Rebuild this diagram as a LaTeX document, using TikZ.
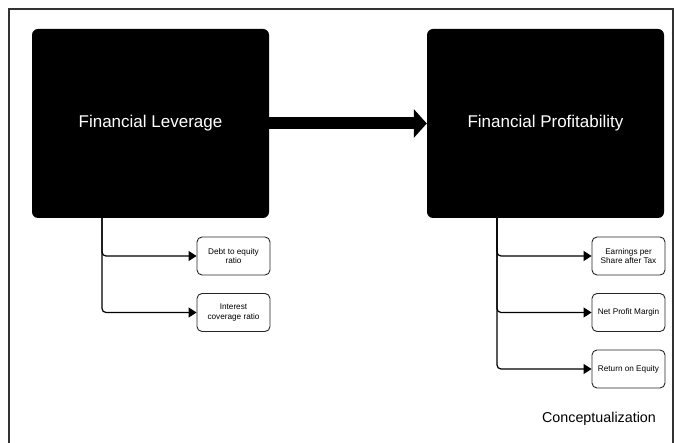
\documentclass[tikz,border=0pt]{standalone}
\usepackage{fontspec}
\setmainfont{Liberation Sans}
\usetikzlibrary{arrows.meta}

\begin{document}
\begin{tikzpicture}[x=1pt, y=-1pt,
    bigbox/.style={rectangle, rounded corners=6pt, fill=black, text=white,
        minimum width=237pt, minimum height=189pt, font=\fontsize{17}{20}\selectfont},
    smallbox/.style={rectangle, rounded corners=5pt, draw=black!85, line width=0.9pt,
        minimum width=73pt, minimum height=38pt, align=center, inner sep=1pt,
        font=\fontsize{8.2}{9.5}\selectfont},
    link/.style={line width=1.2pt, rounded corners=4pt, -{Triangle[length=8pt, width=10pt]}}]
    \useasboundingbox (0,0) rectangle (676,443);
    \draw[black!80, line width=1.4pt] (9,450) -- (9,9) -- (673,9) -- (673,450);

    \node[bigbox] (lev) at (150.5, 123.5) {Financial Leverage};
    \node[bigbox] (prof) at (545.5, 123.5) {Financial Profitability};

    \draw[line width=12pt, -{Triangle[length=13pt, width=28pt]}] (lev.east) -- (prof.west);

    \node[smallbox] (d1) at (233.5, 256) {Debt to equity\\ratio};
    \node[smallbox] (d2) at (233.5, 312.5) {Interest\\coverage ratio};

    \node[smallbox] (p1) at (628.5, 256) {Earnings per\\Share after Tax};
    \node[smallbox] (p2) at (628.5, 312.5) {Net Profit Margin};
    \node[smallbox] (p3) at (628.5, 369) {Return on Equity};

    \coordinate (lt) at (102, 218);
    \coordinate (pt) at (497, 218);

    \foreach \i in {1, 2}
        \draw[link] (lt) |- (d\i.west);
    \foreach \i in {1, 2, 3}
        \draw[link] (pt) |- (p\i.west);

    \node[font=\fontsize{14.3}{17}\selectfont] (concept) at (599, 419) {Conceptualization};
\end{tikzpicture}
\end{document}
